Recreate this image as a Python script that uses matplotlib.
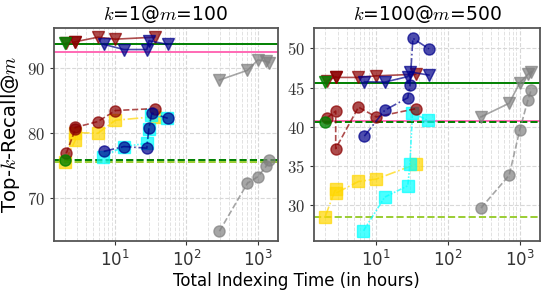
import matplotlib
matplotlib.use("Agg")
import matplotlib.pyplot as plt
from matplotlib.ticker import FuncFormatter, LogLocator, NullFormatter

plt.rcParams['mathtext.fontset'] = 'cm'
plt.rcParams['font.family'] = ['DejaVu Sans']

titles = ["$k$=1@$m$=100", "$k$=100@$m$=500"]

# x values (hours) per method
x_gray = [290, 715, 1000, 1300, 1450]
x_red = [2.1, 2.8, 2.8, 5.8, 10.2, 36]
x_blue = [7.0, 13.4, 28, 30, 33, 55]
x_blue_tri = [7.0, 13.4, 28, 30, 55]
x_yellow = [2.0, 2.8, 2.8, 5.8, 10.2, 36]
x_cyan = [6.8, 13.4, 28, 30, 32.5, 53]
x_green = [2.0]

# panel 1: k=1@m=100
p1_gray_tri = [88.2, 89.7, 91.3, 91.1, 90.9]
p1_gray_circ = [64.9, 72.3, 73.3, 74.9, 75.9]
p1_red_tri = [93.9, 94.05, 94.1, 94.8, 94.5, 94.8]
p1_red_circ = [76.9, 80.6, 80.9, 81.8, 83.5, 83.8]
p1_blue_tri = [93.7, 92.9, 92.9, 94.25, 93.7]
p1_blue_circ = [77.2, 77.95, 77.7, 80.8, 83.1, 82.3]
p1_yellow = [75.6, 78.9, 80.1, 80.0, 82.0, 82.55]
p1_cyan = [76.4, 77.95, 78.45, 80.6, 82.8, 82.3]
p1_green_tri = [93.9]
p1_green_circ = [75.95]
p1_pink = 92.45

# panel 2: k=100@m=500
p2_gray_tri = [41.25, 43.0, 45.6, 46.7, 47.0]
p2_gray_circ = [29.6, 33.8, 39.55, 43.4, 44.75]
p2_red_tri = [45.8, 46.4, 46.3, 46.3, 46.5, 46.7]
p2_red_circ = [41.1, 42.0, 37.2, 42.5, 41.25, 42.3]
p2_blue_tri = [45.75, 45.7, 46.4, 47.0, 46.6]
p2_blue_circ = [38.8, 42.1, 43.7, 45.3, 51.3, 49.95]
p2_yellow = [28.5, 32.1, 31.5, 33.0, 33.3, 35.2]
p2_cyan = [26.7, 31.0, 32.45, 35.2, 41.8, 40.8]
p2_green_tri = [45.7]
p2_green_circ = [40.6]
p2_pink = 40.75

panels = [
    dict(gray_tri=p1_gray_tri, gray_circ=p1_gray_circ, red_tri=p1_red_tri, red_circ=p1_red_circ,
         blue_tri=p1_blue_tri, blue_circ=p1_blue_circ, yellow=p1_yellow, cyan=p1_cyan,
         green_tri=p1_green_tri, green_circ=p1_green_circ, pink=p1_pink,
         ylim=(63.4, 96.2), yticks=[70, 80, 90]),
    dict(gray_tri=p2_gray_tri, gray_circ=p2_gray_circ, red_tri=p2_red_tri, red_circ=p2_red_circ,
         blue_tri=p2_blue_tri, blue_circ=p2_blue_circ, yellow=p2_yellow, cyan=p2_cyan,
         green_tri=p2_green_tri, green_circ=p2_green_circ, pink=p2_pink,
         ylim=(25.4, 52.6), yticks=[30, 35, 40, 45, 50]),
]

fig = plt.figure(figsize=(5.48, 2.96), dpi=100)
axes = [fig.add_axes([0.098, 0.186, 0.409, 0.719]),
        fig.add_axes([0.573, 0.186, 0.412, 0.719])]

red = '#8b0000'
blue = '#00008b'
ms = 8
for ax, p, t in zip(axes, panels, titles):
    ax.set_xscale('log')
    # horizontal reference lines
    ax.axhline(p['green_tri'][0] - 0.1, color='green', lw=1.4, zorder=2)
    ax.axhline(p['pink'], color='hotpink', lw=1.4, zorder=2)
    ax.axhline(p['green_circ'][0], color='green', lw=1.4, ls='--', zorder=2)
    ax.axhline(p['yellow'][0] - 0.05, color='yellowgreen', lw=1.4, ls='--', zorder=2)

    ax.plot(x_gray, p['gray_tri'], '-', marker='v', color='gray', ms=ms, alpha=0.7, lw=1.2)
    ax.plot(x_gray, p['gray_circ'], '--', marker='o', color='gray', ms=ms, alpha=0.7, lw=1.2)
    ax.plot(x_yellow, p['yellow'], '-.', marker='s', color='gold', ms=ms, alpha=0.7, lw=1.2)
    ax.plot(x_cyan, p['cyan'], ls=(0, (3, 1, 1, 1, 1, 1)), marker='s', color='cyan', ms=ms, alpha=0.7, lw=1.2)
    ax.plot(x_red, p['red_circ'], '--', marker='o', color=red, ms=ms, alpha=0.7, lw=1.2)
    ax.plot(x_blue, p['blue_circ'], '-.', marker='o', color=blue, ms=ms, alpha=0.7, lw=1.2)
    ax.plot(x_red, p['red_tri'], '-', marker='v', color=red, ms=ms, alpha=0.7, lw=1.2)
    ax.plot(x_blue_tri, p['blue_tri'], '-', marker='v', color=blue, ms=ms, alpha=0.7, lw=1.2)
    ax.plot(x_green, p['green_tri'], marker='v', color='green', ms=ms, alpha=0.8, ls='none')
    ax.plot(x_green, p['green_circ'], marker='o', color='green', ms=ms, alpha=0.8, ls='none')

    ax.set_xlim(1.4, 1900)
    ax.set_ylim(*p['ylim'])
    ax.set_yticks(p['yticks'])
    ax.yaxis.set_major_formatter(FuncFormatter(lambda v, pos: f'${v:g}$'))
    ax.xaxis.set_major_locator(LogLocator(base=10, numticks=10))
    ax.xaxis.set_minor_locator(LogLocator(base=10, subs=range(2, 10), numticks=100))
    ax.xaxis.set_minor_formatter(NullFormatter())
    ax.grid(True, which='major', ls='--', color='#d8d8d8', lw=0.8)
    ax.grid(True, which='minor', axis='x', ls='--', color='#e2e2e2', lw=0.7)
    ax.set_axisbelow(True)
    for s in ax.spines.values():
        s.set_color('#555555')
        s.set_linewidth(1.3)
    ax.tick_params(labelsize=12, colors='#333333', length=3, width=0.8, which='major')
    ax.tick_params(which='minor', length=0)
    ax.set_title(t, fontsize=13.5, pad=6)

axes[0].set_ylabel('Top-$k$-Recall@$m$', fontsize=14)
axes[0].yaxis.set_label_coords(-0.14, 0.5)
fig.text(0.54, 0.035, 'Total Indexing Time (in hours)', ha='center', fontsize=12)

fig.savefig('out.png', dpi=100)
